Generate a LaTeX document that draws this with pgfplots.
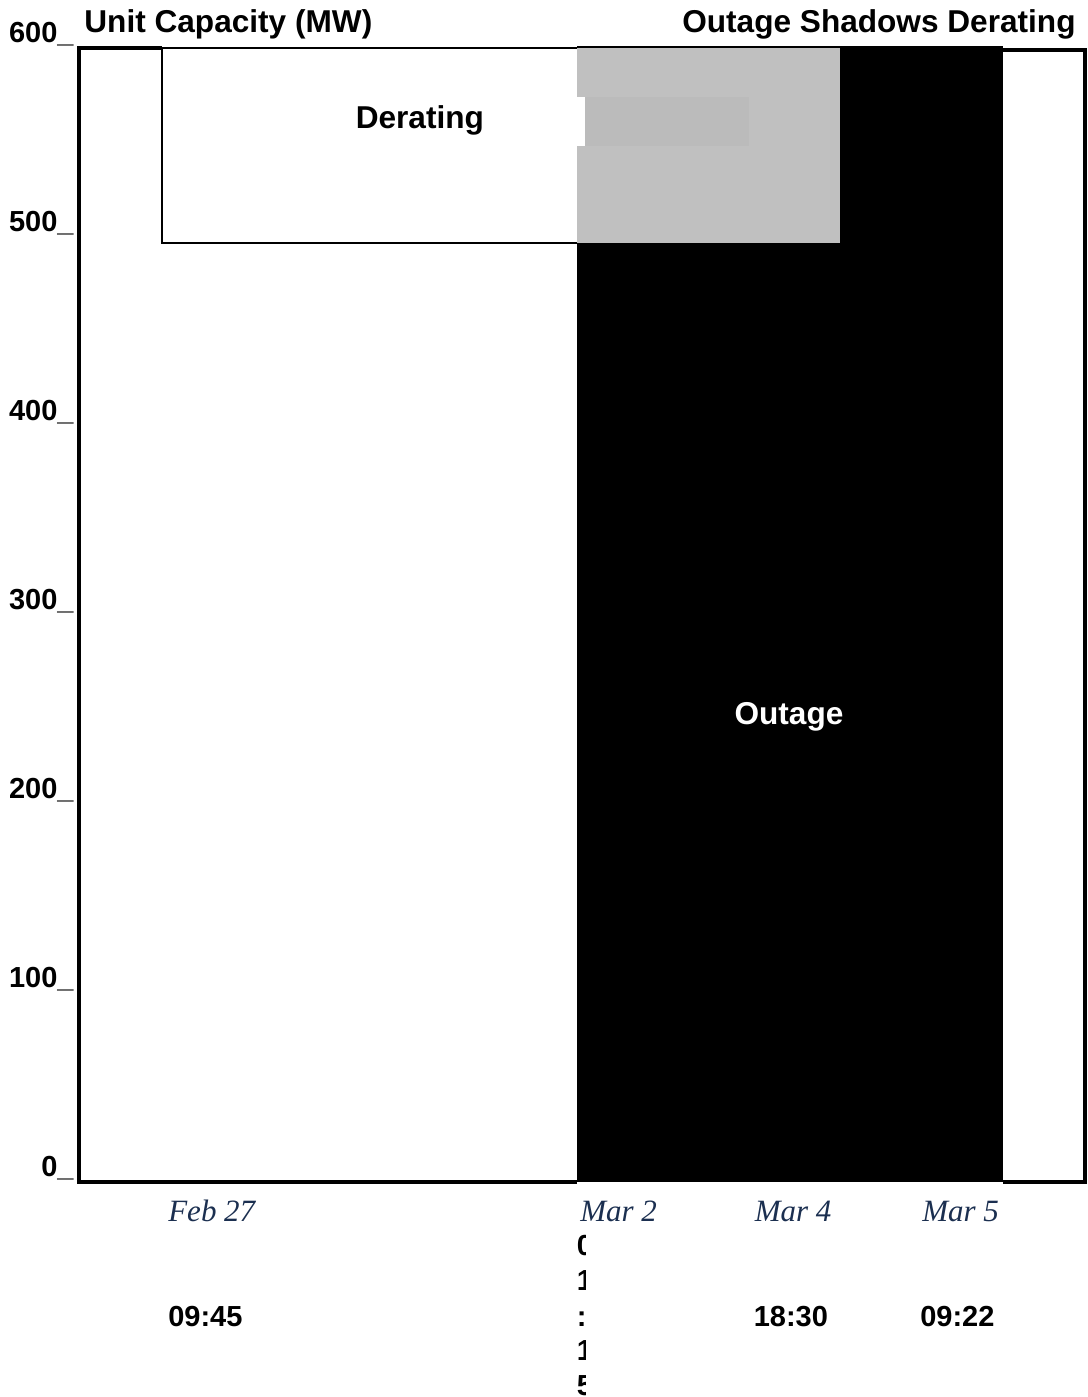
\documentclass[border=0pt]{standalone}
\usepackage{pgfplots}
\pgfplotsset{compat=1.18}
\usepackage{fontspec}
\setmainfont{Liberation Sans}
\newfontfamily\datefont{Liberation Serif}
\definecolor{overlapgray}{HTML}{C0C0C0}
\definecolor{labelgray}{HTML}{BBBBBB}
\definecolor{datenavy}{HTML}{1B2F50}

\newcommand\bigbold{\fontsize{15.8}{18}\selectfont\bfseries}
\newcommand\tickbold{\fontsize{14.5}{17}\selectfont\bfseries}
\newcommand\datestyle{\datefont\itshape\fontsize{15.5}{18}\selectfont}

\begin{document}
\begin{tikzpicture}
\begin{axis}[
  scale only axis,
  width=503pt, height=567pt,
  xmin=-0.123, xmax=6.293,
  ymin=0, ymax=600,
  axis line style={draw=none},
  xtick=\empty,
  ytick={0,100,...,600},
  yticklabels={0\_,100\_,200\_,300\_,400\_,500\_,600\_},
  yticklabel style={font=\tickbold, anchor=base east, inner sep=0pt, xshift=-2.5pt, yshift=2.5pt},
  major tick length=0pt,
  clip=false,
]
% x = days after Feb 27 00:00, y = MW
% derating: Feb 27 09:45 -> ~Mar 3 17:30, capacity cut to 497 MW
\addplot[fill=white, draw=black, line width=1pt] coordinates {(0.406,497) (0.406,600) (4.730,600) (4.730,497)} -- cycle;
% outage: Mar 2 01:15 -> Mar 4 18:30, full unit
\addplot[fill=black, draw=none] coordinates {(3.052,0) (3.052,601) (5.771,601) (5.771,0)} -- cycle;
% where the outage shadows the derating
\addplot[fill=overlapgray, draw=none] coordinates {(3.052,497) (3.052,600) (4.730,600) (4.730,497)} -- cycle;

\fill[labelgray] (axis cs:3.101,548.3) rectangle (axis cs:4.150,574.2);
\fill[white] (axis cs:3.048,548.3) rectangle (axis cs:3.101,574.2);

% frame
\draw[line width=2pt] (axis cs:0.406,600) -| (rel axis cs:0,0) -- (axis cs:3.052,0);
\draw[line width=2pt] (axis cs:5.771,0) -- (rel axis cs:1,0) -- (axis cs:6.293,599) -- (axis cs:5.771,599);

\node[font=\bigbold] at (axis cs:2.051,561.5) {Derating};
\node[font=\bigbold, text=white] at (axis cs:4.405,246) {Outage};

\node[anchor=base west, inner sep=0pt, font=\bigbold, xshift=2.5pt, yshift=7.5pt] at (rel axis cs:0,1) {Unit Capacity (MW)};
\node[anchor=base east, inner sep=0pt, font=\bigbold, xshift=-4.5pt, yshift=7.5pt] at (rel axis cs:1,1) {Outage Shadows Derating};

\node[anchor=base west, inner sep=0pt, font=\datestyle, text=datenavy, yshift=-19.5pt] at (axis cs:0.444,0) {Feb 27};
\node[anchor=base west, inner sep=0pt, font=\datestyle, text=datenavy, yshift=-19.5pt] at (axis cs:3.072,0) {Mar 2};
\node[anchor=base west, inner sep=0pt, font=\datestyle, text=datenavy, yshift=-19.5pt] at (axis cs:4.185,0) {Mar 4};
\node[anchor=base west, inner sep=0pt, font=\datestyle, text=datenavy, yshift=-19.5pt] at (axis cs:5.253,0) {Mar 5};

\node[anchor=base west, inner sep=0pt, font=\tickbold, yshift=-72pt] at (axis cs:0.444,0) {09:45};
\node[anchor=base west, inner sep=0pt, font=\tickbold, yshift=-72pt] at (axis cs:4.178,0) {18:30};
\node[anchor=base west, inner sep=0pt, font=\tickbold, yshift=-72pt] at (axis cs:5.240,0) {09:22};

\coordinate (stk) at (axis cs:3.049,0);
\coordinate (sw) at (rel axis cs:0,0);
\coordinate (ne) at (rel axis cs:1,1);
\end{axis}

% the Mar 2 time label, wrapped to one character per line and cut off
\begin{scope}
\clip ([xshift=-5pt,yshift=-25pt]stk) rectangle ([xshift=4.5pt,yshift=-115pt]stk);
\foreach \c/\d in {0/37pt,1/54.4pt,:/72pt,1/89.4pt,5/106.8pt}
  \node[anchor=base west, inner sep=0pt, font=\tickbold, yshift=-\d] at (stk) {\c};
\end{scope}

\pgfresetboundingbox
\path[use as bounding box] ([xshift=-39.5pt,yshift=-107.5pt]sw) rectangle ([xshift=1pt,yshift=24pt]ne);
\end{tikzpicture}
\end{document}
